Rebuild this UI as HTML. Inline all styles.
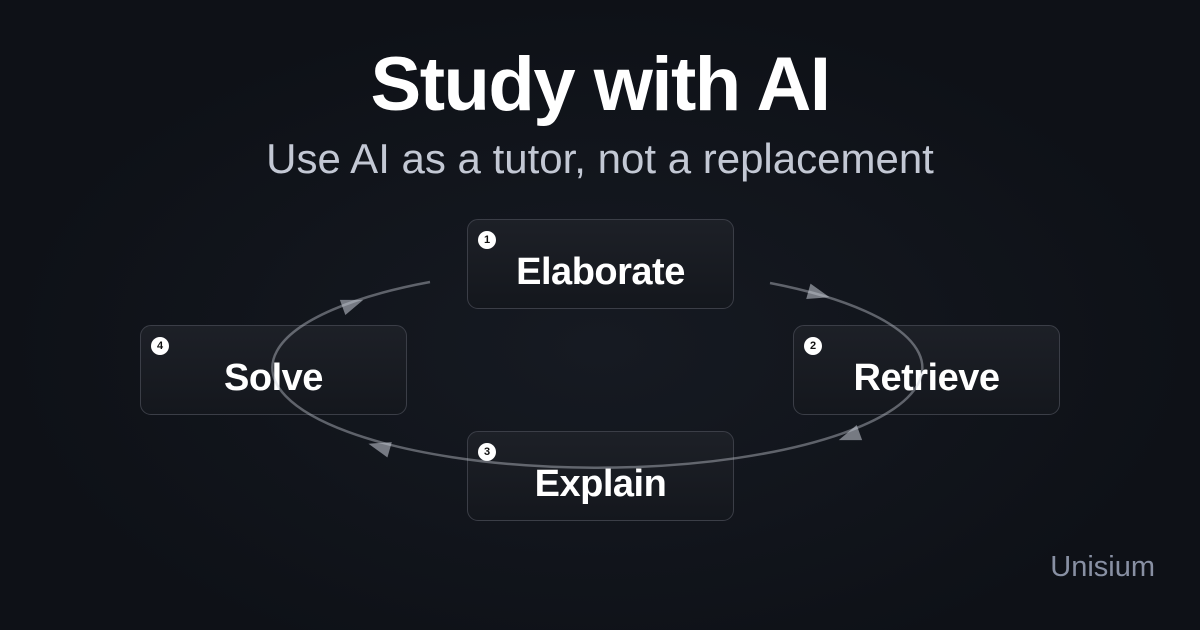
<!DOCTYPE html>
<html><head><meta charset="utf-8"><style>
html,body{margin:0;padding:0}
body{width:1200px;height:630px;overflow:hidden;background:radial-gradient(ellipse at 50% 55%,#161a22 0%,#0e1117 70%);font-family:"Liberation Sans",sans-serif;position:relative}
.t{position:absolute;left:0;width:1200px;text-align:center;color:#fff}
.box{position:absolute;width:267px;height:90px;border:1.5px solid #3b3e47;border-radius:11px;background:linear-gradient(#1d2027,#14171d);box-sizing:border-box;color:#fff;font-weight:bold;font-size:38px;text-align:center;line-height:104px;letter-spacing:-0.5px}
.n{position:absolute;left:10px;top:11px;width:18px;height:18px;border-radius:50%;background:#fff;color:#111;font-size:11px;line-height:18px;text-align:center;letter-spacing:0}
</style></head><body>
<div class="t" style="top:41px;font-size:76px;font-weight:bold;letter-spacing:-1.5px;line-height:88px">Study with AI</div>
<div class="t" style="top:134px;font-size:42px;color:#c3c8d4;line-height:50px">Use AI as a tutor, not a replacement</div>
<div class="box" style="left:467px;top:219px"><span class="n">1</span>Elaborate</div>
<div class="box" style="left:793px;top:325px"><span class="n">2</span>Retrieve</div>
<div class="box" style="left:467px;top:431px"><span class="n">3</span>Explain</div>
<div class="box" style="left:140px;top:325px"><span class="n">4</span>Solve</div>
<svg width="1200" height="630" style="position:absolute;left:0;top:0">
<path d="M430,282 A325,100 0 1 0 770,283" fill="none" stroke="rgba(200,205,215,0.42)" stroke-width="2.5"/>
<g fill="rgba(200,205,215,0.55)">
<polygon points="12,0 -10,-8 -10,8" transform="translate(818,294) rotate(15.5)"/>
<polygon points="12,0 -10,-8 -10,8" transform="translate(850,436) rotate(160)"/>
<polygon points="12,0 -10,-8 -10,8" transform="translate(380,447) rotate(196)"/>
<polygon points="12,0 -10,-8 -10,8" transform="translate(352,304) rotate(-20)"/>
</g>
</svg>
<div style="position:absolute;right:45px;top:551px;font-size:29px;color:#8890a3">Unisium</div>
</body></html>
